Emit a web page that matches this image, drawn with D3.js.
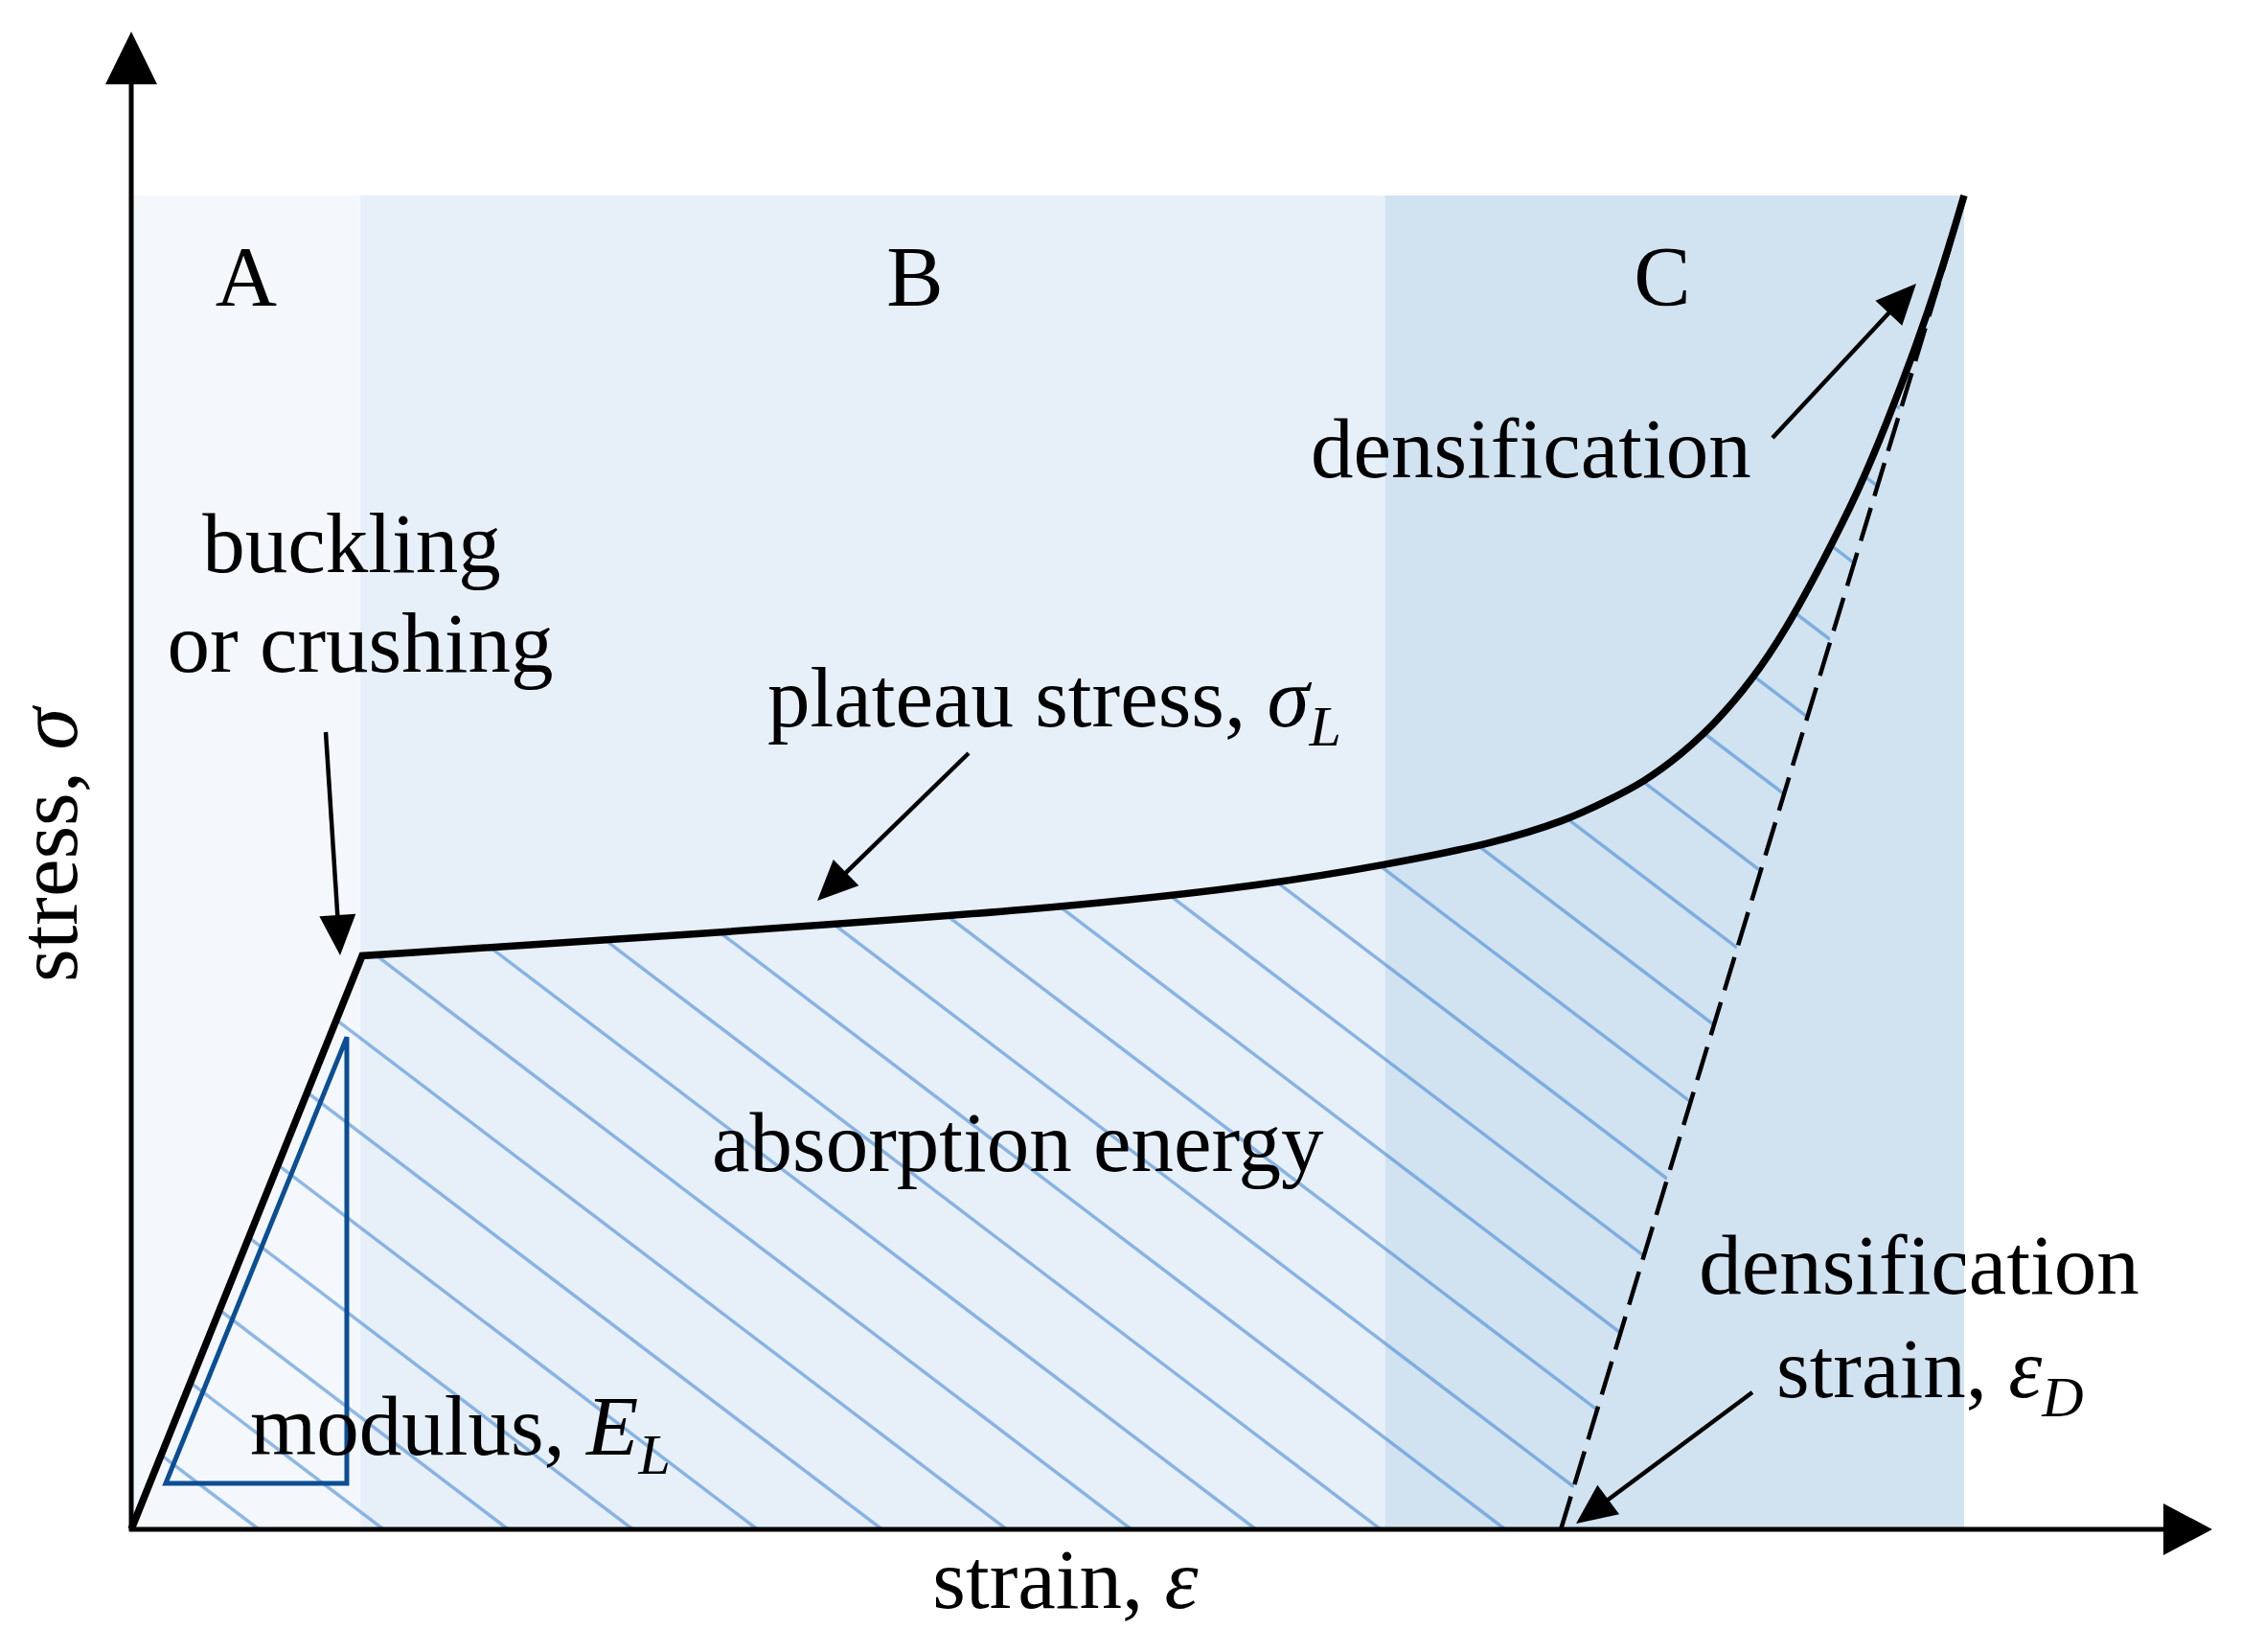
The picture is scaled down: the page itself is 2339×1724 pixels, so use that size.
<!DOCTYPE html>
<html><head><meta charset="utf-8">
<script src="https://cdn.jsdelivr.net/npm/d3@7"></script>
<style>
body{margin:0;background:#fff;}
text{font-family:"Liberation Serif","Times New Roman",serif;fill:#000;}
</style>
</head><body>
<svg id="chart"></svg>
<script>
// ---- data (strain / stress in normalised units) ----
const regionLabels = ["A", "B", "C"];
const regionStart  = [0, 0.125, 0.684];
const regionEnd    = [0.125, 0.684, 1.0];

const elasticStrain = [0, 0.126];
const elasticStress = [0, 0.430];

const plateauStrain = [0.126, 0.294, 0.503, 0.624, 0.683, 0.743, 0.784, 0.805, 0.825, 0.845, 0.864, 0.884, 0.903, 0.922, 0.942, 0.958, 0.973, 0.987, 1.0];
const plateauStress = [0.430, 0.445, 0.465, 0.484, 0.498, 0.514, 0.532, 0.546, 0.560, 0.580, 0.604, 0.636, 0.675, 0.723, 0.777, 0.830, 0.884, 0.940, 1.0];

const tangentStrain = [0.780, 0.992];
const tangentStress = [0, 0.96];

const modulusStrain = [0.0188, 0.1176, 0.1176];
const modulusStress = [0.0345, 0.0345, 0.369];

const hatchSpacingStrain = 0.068;   // spacing of hatch lines along strain axis
const hatchFirstStrain = 0.0016;     // strain where one hatch line meets the axis

// ---- styles ----
const regionColors = ["#f4f8fc", "#e7f0f9", "#d1e3f1"];

const W = 2339, H = 1724;
const svg = d3.select("#chart").attr("width", W).attr("height", H)
  .style("display", "block").style("background", "#fff");

const x = d3.scaleLinear().domain([0, 1]).range([137, 2050]);
const y = d3.scaleLinear().domain([0, 1]).range([1596, 204]);

// regions
svg.append("g").selectAll("rect").data(regionLabels).join("rect")
  .attr("x", (d, i) => x(regionStart[i]))
  .attr("y", y(1))
  .attr("width", (d, i) => x(regionEnd[i]) - x(regionStart[i]))
  .attr("height", y(0) - y(1))
  .attr("fill", (d, i) => regionColors[i]);

// region labels
const labelCenters = [257, 955, 1735];
svg.append("g").selectAll("text").data(regionLabels).join("text")
  .attr("x", (d, i) => labelCenters[i]).attr("y", 318)
  .attr("text-anchor", "middle").attr("font-size", 89).text(d => d);

// curve generators
const lineLin = d3.line().x(d => x(d[0])).y(d => y(d[1]));
const lineSmooth = d3.line().x(d => x(d[0])).y(d => y(d[1])).curve(d3.curveBasis);
const elasticPts = elasticStrain.map((s, i) => [s, elasticStress[i]]);
const plateauPts = plateauStrain.map((s, i) => [s, plateauStress[i]]);
const curveD = lineLin(elasticPts) + lineSmooth(plateauPts).replace(/^M/, "L");

// clip for absorption-energy hatch
const clipD = curveD + "L" + x(tangentStrain[0]) + "," + y(tangentStress[0]) + "Z";
svg.append("defs").append("clipPath").attr("id", "energyClip")
  .append("path").attr("d", clipD);

// hatch lines
const slope = 0.76; // screen dy/dx
const hatchK = d3.range(-14, 30);
const hg = svg.append("g").attr("clip-path", "url(#energyClip)");
hg.selectAll("line").data(hatchK).join("line")
  .attr("x1", k => x(hatchFirstStrain + k * hatchSpacingStrain))
  .attr("y1", y(0))
  .attr("x2", k => x(hatchFirstStrain + k * hatchSpacingStrain) - (y(0) - y(1)) / slope)
  .attr("y2", y(1))
  .attr("stroke", "#3a82cf").attr("stroke-opacity", 0.55).attr("stroke-width", 3.5);

// modulus triangle
const triPts = modulusStrain.map((s, i) => [s, modulusStress[i]]);
svg.append("path").attr("d", lineLin(triPts) + "Z")
  .attr("fill", "none").attr("stroke", "#0b4e94").attr("stroke-width", 5)
  .attr("stroke-linejoin", "miter");

// tangent dashed line
const tanPts = tangentStrain.map((s, i) => [s, tangentStress[i]]);
svg.append("path").attr("d", lineLin(tanPts))
  .attr("fill", "none").attr("stroke", "#000").attr("stroke-width", 4.5)
  .attr("stroke-dasharray", "36,13");

// main curve
svg.append("path").attr("d", curveD)
  .attr("fill", "none").attr("stroke", "#000").attr("stroke-width", 7.5)
  .attr("stroke-linejoin", "miter");

// axes with arrowheads
const ax = svg.append("g");
ax.append("line").attr("x1", x(0)).attr("y1", y(0) + 2).attr("x2", x(0)).attr("y2", 80)
  .attr("stroke", "#000").attr("stroke-width", 5);
ax.append("path").attr("d", `M${x(0)},33 L${x(0) - 27},88 L${x(0) + 27},88 Z`).attr("fill", "#000");
ax.append("line").attr("x1", x(0) - 2).attr("y1", y(0)).attr("x2", 2265).attr("y2", y(0))
  .attr("stroke", "#000").attr("stroke-width", 5);
ax.append("path").attr("d", `M2309,${y(0)} L2258,${y(0) - 27} L2258,${y(0) + 27} Z`).attr("fill", "#000");

// annotation arrows
function arrow(x1, y1, x2, y2) {
  const len = 42, hw = 19;
  const dx = x2 - x1, dy = y2 - y1, L = Math.hypot(dx, dy);
  const ux = dx / L, uy = dy / L;
  const bx = x2 - ux * len, by = y2 - uy * len;
  svg.append("line").attr("x1", x1).attr("y1", y1).attr("x2", bx + ux * 4).attr("y2", by + uy * 4)
    .attr("stroke", "#000").attr("stroke-width", 4.5);
  svg.append("path")
    .attr("d", `M${x2},${y2} L${bx - uy * hw},${by + ux * hw} L${bx + uy * hw},${by - ux * hw} Z`)
    .attr("fill", "#000");
}
arrow(340, 764, 355, 997);
arrow(1011, 786, 853, 940);
arrow(1850, 457, 2000, 296);
arrow(1829, 1453, 1645, 1590);

// texts
const fs = 89, sub = 60;
function txt(xp, yp, anchor) {
  return svg.append("text").attr("x", xp).attr("y", yp).attr("text-anchor", anchor).attr("font-size", fs);
}
txt(367, 597, "middle").text("buckling");
txt(376, 701, "middle").text("or crushing");

let t = txt(801, 758, "start");
t.append("tspan").text("plateau stress, ");
t.append("tspan").attr("font-style", "italic").text("σ");
t.append("tspan").attr("font-style", "italic").attr("font-size", sub).attr("dy", 20).text("L");

txt(1368, 498, "start").text("densification");
txt(743, 1222, "start").text("absorption energy");
txt(2003, 1350, "middle").text("densification");

t = txt(1854, 1458, "start");
t.append("tspan").text("strain, ");
t.append("tspan").attr("font-style", "italic").text("ε");
t.append("tspan").attr("font-style", "italic").attr("font-size", sub).attr("dy", 20).text("D");

t = txt(261, 1518, "start");
t.append("tspan").text("modulus, ");
t.append("tspan").attr("font-style", "italic").text("E");
t.append("tspan").attr("font-style", "italic").attr("font-size", sub).attr("dy", 20).text("L");

t = txt(1112, 1678, "middle");
t.append("tspan").text("strain, ");
t.append("tspan").attr("font-style", "italic").text("ε");

t = svg.append("text").attr("transform", "translate(80,882) rotate(-90)")
  .attr("text-anchor", "middle").attr("font-size", fs);
t.append("tspan").text("stress, ");
t.append("tspan").attr("font-style", "italic").text("σ");
</script>
</body></html>
